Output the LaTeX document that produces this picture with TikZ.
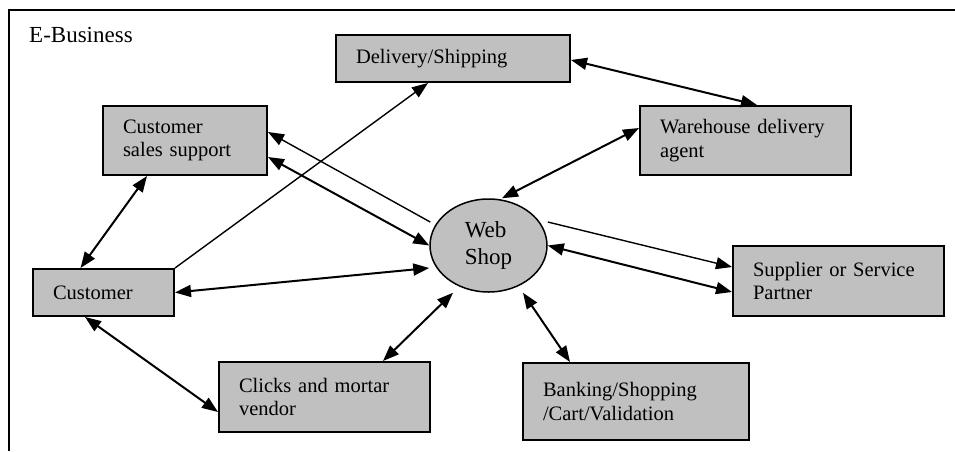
\documentclass[tikz,border=0pt]{standalone}
\usepackage{fontspec}
\setmainfont{Liberation Serif}
\usepackage{tikz}
\usetikzlibrary{shapes.geometric, arrows.meta}
\usetikzlibrary{calc}
\definecolor{boxgray}{HTML}{C0C0C0}

\begin{document}
\begin{tikzpicture}[x=1pt, y=-1pt,
    font=\fontsize{20.5}{23.5}\selectfont,
    box/.style={draw, fill=boxgray, line width=2pt, align=left, inner xsep=20pt, inner ysep=0pt},
    shop/.style={ellipse, draw, fill=boxgray, line width=1.5pt, minimum width=117pt, minimum height=93pt, inner sep=0pt, align=left, font=\fontsize{23}{26.5}\selectfont},
    link/.style={line width=2pt, {Triangle[length=16pt,width=12pt]}-{Triangle[length=16pt,width=12pt]}},
    oneway/.style={line width=1.4pt, -{Triangle[length=16pt,width=12pt]}}]
    \useasboundingbox (0,0) rectangle (955,451);
    \draw[line width=2pt] (955,10) -- (9,10) -- (9,451);
    \node[anchor=base west, inner sep=0pt, font=\fontsize{23}{26.5}\selectfont] (ebiz) at (29,42) {E-Business};

    \node[box, text width=194pt, minimum height=47pt] (deliv) at (453,58.5) {Delivery/Shipping};
    \node[box, text width=124pt, minimum height=69pt] (css) at (185,140.5) {Customer\\sales support};
    \node[box, text width=171pt, minimum height=69pt] (wda) at (745.5,140.5) {Warehouse delivery\\agent};
    \node[shop] (web) at (488.5,245.5) {Web\\Shop};
    \node[box, text width=101pt, minimum height=47pt] (cust) at (103.5,292.5) {Customer};
    \node[box, text width=171pt, minimum height=70pt] (cmv) at (324.5,397) {Clicks and mortar\\vendor};
    \node[box, text width=171pt, minimum height=70pt] (ssp) at (838.5,281) {Supplier or Service\\Partner};
    \node[box, text width=186pt, minimum height=77pt] (bank) at (636,401.5) {Banking/Shopping\\/Cart/Validation};

    \path[oneway]
    (cust.north east) edge ($(deliv.south)+(-25,0)$)
    ($(web.west)+(1,-23.5)$) edge ($(css.east)+(0,-8.5)$)
    ($(web.east)+(0,-23.5)$) edge ($(ssp.west)+(0,-14)$);

    \path[link]
    ($(cust.north)+(-23,0)$) edge ($(css.south)+(-38,0)$)
    ($(css.east)+(0,16.5)$) edge (web.west)
    (cust.east) edge ($(web.west)+(0,22.5)$)
    ($(cust.south)+(-18.5,0)$) edge ($(cmv.west)+(0,15)$)
    ($(cmv.north)+(58.5,0)$) edge ($(web.south)+(-35.5,0)$)
    ($(web.south)+(34.5,0)$) edge ($(bank.north)+(-66,0)$)
    ($(ssp.west)+(0,11)$) edge (web.east)
    ($(web.north)+(13.5,0)$) edge ($(wda.west)+(0,-12.5)$)
    ($(deliv.east)+(0,1.5)$) edge ($(wda.north)+(11.5,0)$);
\end{tikzpicture}
\end{document}
